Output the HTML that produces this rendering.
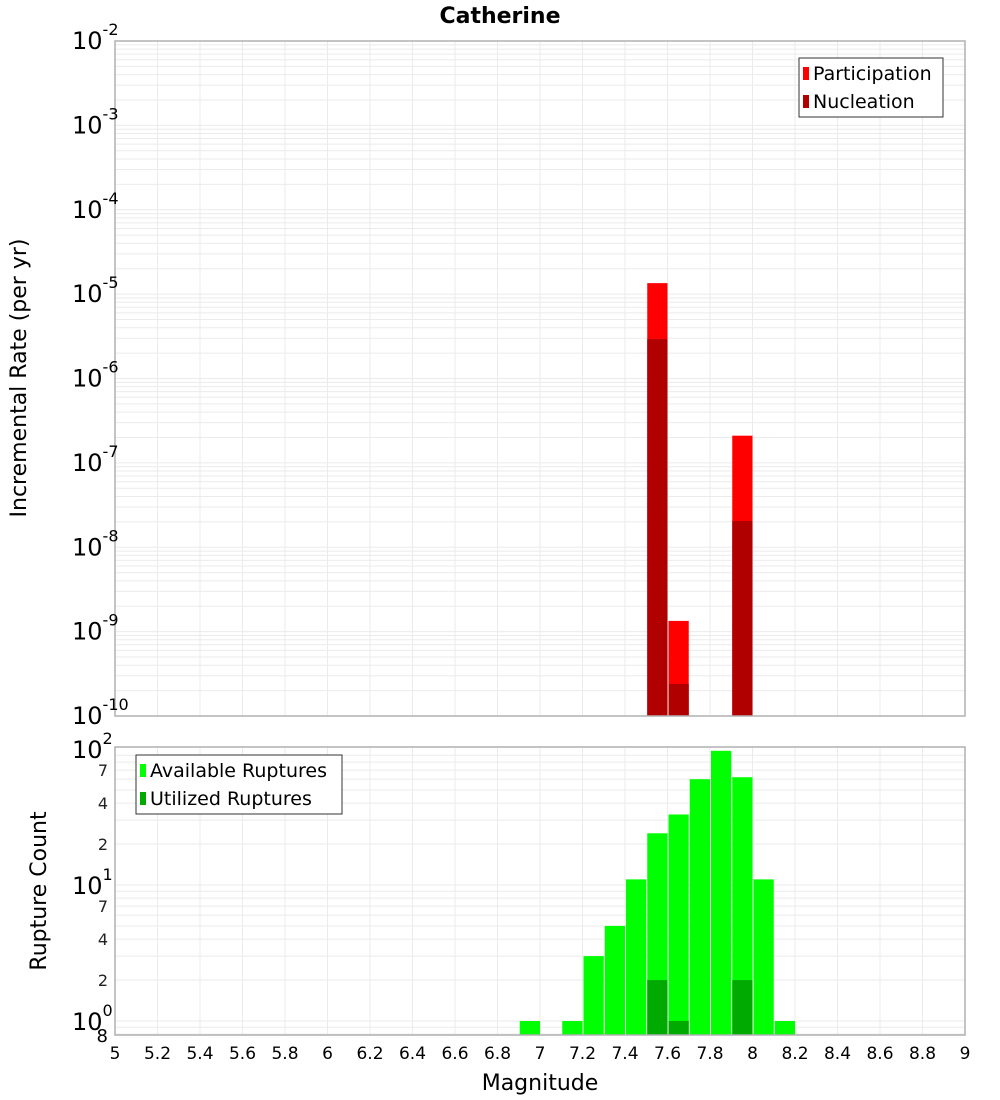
<!DOCTYPE html>
<html><head><meta charset="utf-8">
<style>
html,body{margin:0;padding:0;background:#fff;}
svg{display:block;font-family:"DejaVu Sans","Liberation Sans",sans-serif;}
</style></head>
<body>
<svg id="chart" width="1000" height="1100" xmlns="http://www.w3.org/2000/svg">
<text x="500" y="23" text-anchor="middle" font-size="22" font-weight="bold">Catherine</text>
<g id="topG"></g>
<g id="botG"></g>
<text transform="translate(26,378) rotate(-90)" text-anchor="middle" font-size="22">Incremental Rate (per yr)</text>
<text transform="translate(46,891) rotate(-90)" text-anchor="middle" font-size="22">Rupture Count</text>
<text x="540" y="1090" text-anchor="middle" font-size="22">Magnitude</text>
<g>
<rect x="799" y="58" width="144" height="59" fill="#fff" stroke="#333" stroke-width="1"/>
<rect x="803" y="67" width="6" height="13" fill="#ff0000"/>
<text x="813" y="80" font-size="19">Participation</text>
<rect x="803" y="95" width="6" height="13" fill="#b00000"/>
<text x="813" y="108" font-size="19">Nucleation</text>
</g>
<g>
<rect x="136" y="755" width="206" height="59" fill="#fff" stroke="#333" stroke-width="1"/>
<rect x="140" y="764" width="6" height="13" fill="#00ff00"/>
<text x="150" y="777" font-size="19">Available Ruptures</text>
<rect x="140" y="792" width="6" height="13" fill="#00aa00"/>
<text x="150" y="805" font-size="19">Utilized Ruptures</text>
</g>
</svg>
<script>
const NS="http://www.w3.org/2000/svg";
// data
const rateBins=[7.55,7.65,7.95];
const participation=[1.35e-5,1.34e-9,2.1e-7];
const nucleation=[2.93e-6,2.4e-10,2.05e-8];
const countBins=[6.95,7.15,7.25,7.35,7.45,7.55,7.65,7.75,7.85,7.95,8.05,8.15];
const available=[1,1,3,5,11,24,33,60,97,62,11,1];
const utilizedBins=[7.55,7.65,7.95];
const utilized=[2,1,2];
const xTicks=["5","5.2","5.4","5.6","5.8","6","6.2","6.4","6.6","6.8","7","7.2","7.4","7.6","7.8","8","8.2","8.4","8.6","8.8","9"];
const topExps=[-2,-3,-4,-5,-6,-7,-8,-9,-10];
const botMinor=[7,4,2];

const L=115,R=965,X0=5,X1=9;
const xs=m=>L+(m-X0)/(X1-X0)*(R-L);
const TT=41,TB=716,TMIN=-10,TDEC=(TB-TT)/8;
const yTop=v=>TB-(Math.log10(v)-TMIN)*TDEC;
const BT=747,BB=1035,BONE=1021,BDEC=136;
const yBot=v=>BONE-Math.log10(v)*BDEC;

function el(p,tag,a){const e=document.createElementNS(NS,tag);for(const k in a)e.setAttribute(k,a[k]);p.appendChild(e);return e;}
const topG=document.getElementById('topG'),botG=document.getElementById('botG');

function grid(g,T,B){
  for(let i=1;i<xTicks.length-1;i++){const x=xs(parseFloat(xTicks[i]));
    const l=el(g,'line',{x1:x,x2:x,y1:T,y2:B,stroke:'#ebebeb','stroke-width':1});
    
    }
}
grid(topG,TT,TB);
for(let e=-10;e<-2;e++){for(let k=1;k<10;k++){const y=yTop(k*Math.pow(10,e));if(y<TT||y>TB)continue;
  const l=el(topG,'line',{x1:L,x2:R,y1:y,y2:y,stroke:'#ebebeb','stroke-width':1});
  
  }}
rateBins.forEach((m,i)=>{
  const x=xs(m-0.05)+1,w=xs(m+0.05)-xs(m-0.05)-1;
  const p=el(topG,'rect',{x:x,y:yTop(participation[i]),width:w,height:TB-yTop(participation[i]),fill:'#ff0000'});
  
  
  const n=el(topG,'rect',{x:x,y:yTop(nucleation[i]),width:w,height:TB-yTop(nucleation[i]),fill:'#b00000'});
  
  
});
el(topG,'rect',{x:L,y:TT,width:R-L,height:TB-TT,fill:'none',stroke:'#b0b0b0','stroke-width':1.5});
topExps.forEach(e=>{const y=yTop(Math.pow(10,e));
  const t=el(topG,'text',{x:72,y:y+8,'font-size':24});
  
  
  t.textContent='10';
  const s=el(t,'tspan',{dy:-14,'font-size':16});s.textContent=String(e);
});
grid(botG,BT,BB);
for(let e=-1;e<2;e++){for(let k=1;k<10;k++){const y=yBot(k*Math.pow(10,e));if(y<BT||y>BB)continue;
  const l=el(botG,'line',{x1:L,x2:R,y1:y,y2:y,stroke:'#ebebeb','stroke-width':1});
  
  }}
countBins.forEach((m,i)=>{
  const x=xs(m-0.05)+1,w=xs(m+0.05)-xs(m-0.05)-1;
  const r=el(botG,'rect',{x:x,y:yBot(available[i]),width:w,height:BB-yBot(available[i]),fill:'#00ff00'});
  
  
});
utilizedBins.forEach((m,i)=>{
  const x=xs(m-0.05)+1,w=xs(m+0.05)-xs(m-0.05)-1;
  const r=el(botG,'rect',{x:x,y:yBot(utilized[i]),width:w,height:BB-yBot(utilized[i]),fill:'#00aa00'});
  
  
});
el(botG,'rect',{x:L,y:BT,width:R-L,height:BB-BT,fill:'none',stroke:'#b0b0b0','stroke-width':1.5});
[0,1,2].forEach(e=>{const y=yBot(Math.pow(10,e));
  const t=el(botG,'text',{x:72,y:y+9,'font-size':24});
  
  
  t.textContent='10';
  const s=el(t,'tspan',{dy:-14,'font-size':16});s.textContent=String(e);
});
[0,1].forEach(e=>botMinor.forEach(k=>{const y=yBot(k*Math.pow(10,e));
  const t=el(botG,'text',{x:108,y:y+6,'font-size':16,'text-anchor':'end',fill:'#222'});
  
  
  t.textContent=String(k);}));
{const t=el(botG,'text',{x:108,y:1042,'font-size':18,'text-anchor':'end'});
 
 
 t.textContent='8';}
xTicks.forEach(v=>{const t=el(botG,'text',{x:xs(parseFloat(v)),y:1059,'font-size':17,'text-anchor':'middle'});
  
  
  t.textContent=v;});
</script>
</body></html>
